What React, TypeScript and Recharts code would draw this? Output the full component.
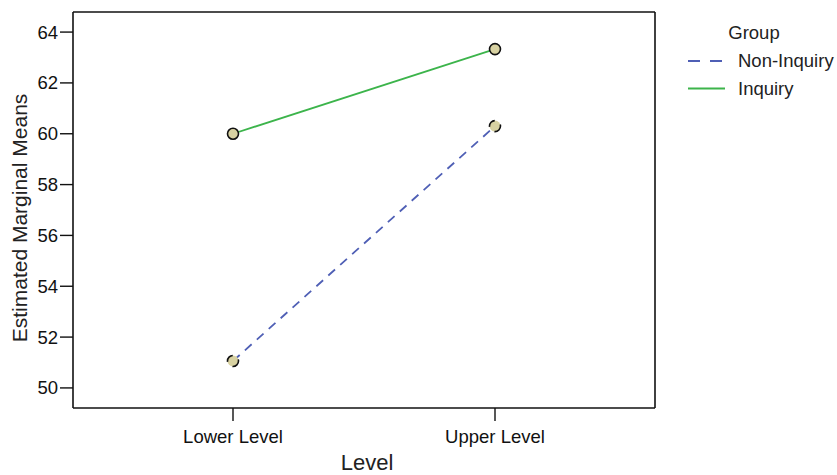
import React from 'react';
import { LineChart, Line, XAxis, YAxis, CartesianGrid } from 'recharts';

const categories = ['Lower Level', 'Upper Level'];
const nonInquiry = [51.06, 60.3];
const inquiry = [60.0, 63.33];
const yTicks = [50, 52, 54, 56, 58, 60, 62, 64];
const seriesNames = ['Non-Inquiry', 'Inquiry'];

const data = categories.map((c, i) => ({ level: c, nonInquiry: nonInquiry[i], inquiry: inquiry[i] }));

const FONT = '"Liberation Sans", Arial, sans-serif';
const BLUE = '#4f5fb5';
const GREEN = '#3cb44b';
const DASH = '9 7';
const dot = { r: 5.5, fill: '#d8d2a2', stroke: '#111', strokeWidth: 1.6 };
const DOMAIN: [number, number] = [49.21, 64.79];

const legendItems = [
  { name: seriesNames[0], color: BLUE, dash: DASH },
  { name: seriesNames[1], color: GREEN, dash: undefined as string | undefined },
];

export default function App() {
  return (
    <div style={{ position: 'absolute', left: 0, top: 0, width: 837, height: 475, background: '#fff', fontFamily: FONT }}>
      <LineChart width={837} height={475} data={data} margin={{ top: 12, right: 182, bottom: 0, left: 0 }}>
        <CartesianGrid
          stroke="#111"
          strokeWidth={1.6}
          horizontalCoordinatesGenerator={(p: any) => [p.offset.top]}
          verticalCoordinatesGenerator={(p: any) => [p.offset.left + p.offset.width]}
        />
        <XAxis
          dataKey="level"
          type="category"
          scale="point"
          padding={{ left: 160, right: 160 }}
          height={67}
          tickSize={13}
          tickMargin={9}
          axisLine={{ stroke: '#111', strokeWidth: 1.6 }}
          tickLine={{ stroke: '#111', strokeWidth: 1.4 }}
          tick={{ fill: '#111', fontSize: 18.5, fontFamily: FONT }}
          label={{
            content: (props: any) => {
              const vb = props.viewBox;
              return (
                <text x={vb.x + vb.width / 2 + 3} y={vb.y + 62} textAnchor="middle" fontSize={22} fill="#222" fontFamily={FONT}>
                  Level
                </text>
              );
            },
          }}
        />
        <YAxis
          type="number"
          domain={DOMAIN}
          ticks={yTicks}
          width={73}
          tickSize={13}
          tickMargin={2}
          axisLine={{ stroke: '#111', strokeWidth: 1.6 }}
          tickLine={{ stroke: '#111', strokeWidth: 1.4 }}
          tick={{ fill: '#111', fontSize: 18.5, fontFamily: FONT }}
          label={{
            content: (props: any) => {
              const vb = props.viewBox;
              const cy = vb.y + vb.height / 2 + 8;
              return (
                <text x={27} y={cy} transform={`rotate(-90, 27, ${cy})`} textAnchor="middle" fontSize={21} fill="#222" fontFamily={FONT}>
                  Estimated Marginal Means
                </text>
              );
            },
          }}
        />
        <Line
          dataKey="inquiry"
          name={seriesNames[1]}
          stroke={GREEN}
          strokeWidth={1.8}
          dot={dot}
          isAnimationActive={false}
        />
        <Line
          dataKey="nonInquiry"
          name={seriesNames[0]}
          stroke={BLUE}
          strokeWidth={1.8}
          strokeDasharray={DASH}
          dot={dot}
          isAnimationActive={false}
        />
      </LineChart>
      <svg width={837} height={475} style={{ position: 'absolute', left: 0, top: 0, pointerEvents: 'none' }}>
        <text x={754} y={39} textAnchor="middle" fontSize={18.5} fill="#222" fontFamily={FONT}>
          Group
        </text>
        {legendItems.map((it, i) => (
          <g key={it.name}>
            <line x1={688} x2={725} y1={61 + i * 27.5} y2={61 + i * 27.5} stroke={it.color} strokeWidth={1.8} strokeDasharray={it.dash ? '12 10' : undefined} />
            <text x={738} y={67 + i * 27.5} fontSize={18.5} fill="#222" fontFamily={FONT}>
              {it.name}
            </text>
          </g>
        ))}
      </svg>
    </div>
  );
}
